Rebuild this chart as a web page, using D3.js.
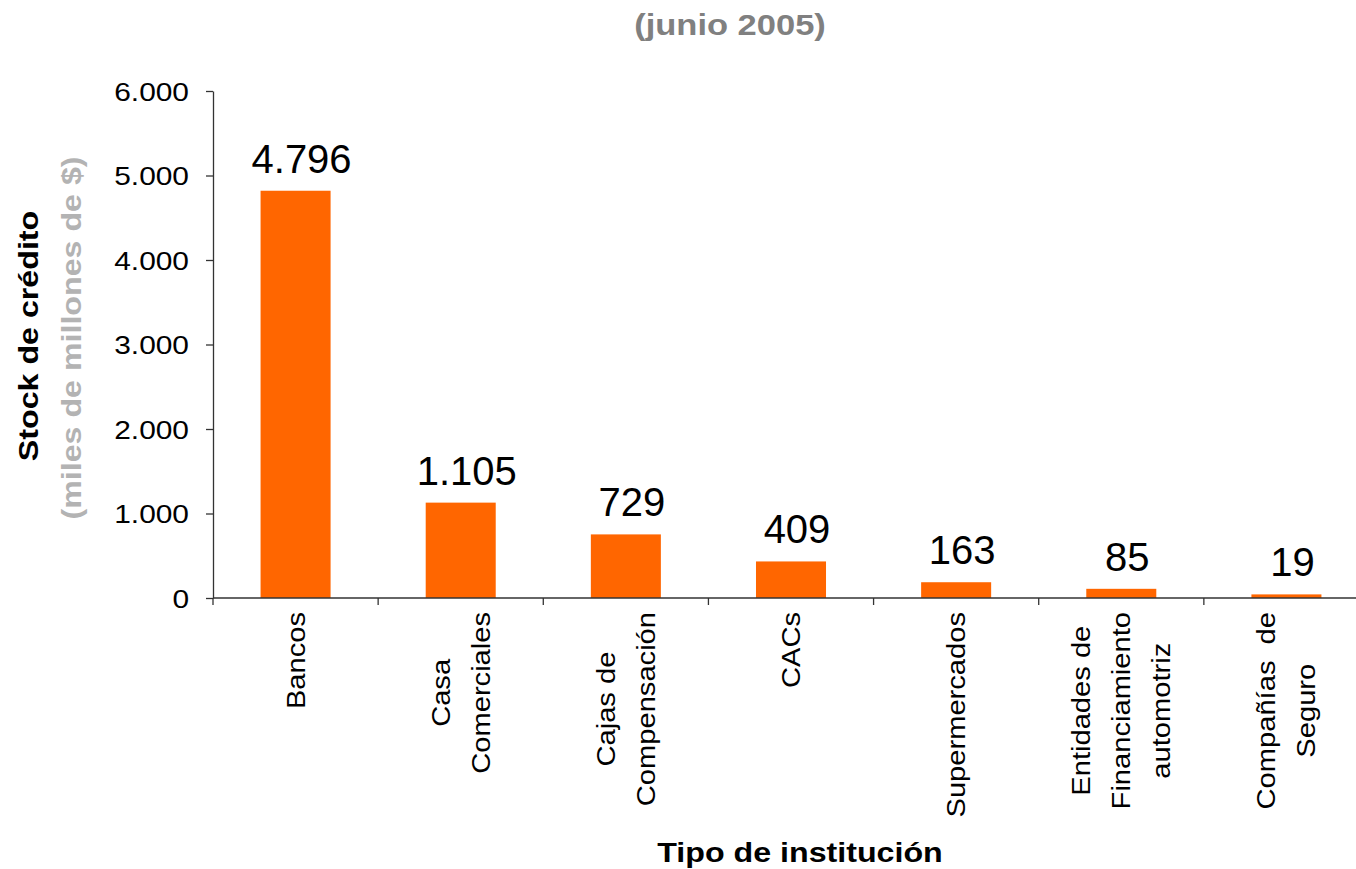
<!DOCTYPE html>
<html><head><meta charset="utf-8">
<script src="https://cdn.jsdelivr.net/npm/d3@7"></script>
<style>body{margin:0;background:#fff}svg text{font-family:"Liberation Sans",Arial,sans-serif}</style>
</head><body><svg id="c" width="1356" height="869"></svg>
<script>
const categories = ["Bancos","Casa Comerciales","Cajas de Compensación","CACs","Supermercados","Entidades de Financiamiento automotriz","Compañías de Seguro"];
const categoryLines = [["Bancos"],["Casa","Comerciales"],["Cajas de","Compensación"],["CACs"],["Supermercados"],["Entidades de","Financiamiento","automotriz"],["Compañías  de","Seguro"]];
const values = [4796,1105,729,409,163,85,19];
const valueLabels = ["4.796","1.105","729","409","163","85","19"];
const yTicks = [0,1000,2000,3000,4000,5000,6000];
const yTickLabels = ["0","1.000","2.000","3.000","4.000","5.000","6.000"];
const titleText = "(junio 2005)";
const yTitle = "Stock de crédito";
const ySubTitle = "(miles de millones de $)";
const xTitle = "Tipo de institución";

const svg = d3.select("#c");
const SX = 1.15;
const x = d3.scaleBand().domain(categories).range([213,1369]).paddingInner(0.576).paddingOuter(0.288);
const y = d3.scaleLinear().domain([0,6000]).range([598,91]);
const axisColor = "#333";

// Bars
svg.append("g").selectAll("rect").data(values).join("rect")
  .attr("x",(d,i)=>x(categories[i]))
  .attr("y",d=>y(d)-2)
  .attr("width",x.bandwidth())
  .attr("height",d=>y(0)-y(d)+2)
  .attr("fill","#FF6600");

// Y axis
const ya = svg.append("g").attr("transform","translate(213,0)")
  .call(d3.axisLeft(y).tickValues(yTicks).tickSize(7).tickSizeOuter(0).tickFormat((d,i)=>yTickLabels[i]));
ya.select(".domain").attr("stroke",axisColor).attr("stroke-width",1.3);
ya.selectAll(".tick line").attr("stroke",axisColor).attr("stroke-width",1.3);
ya.selectAll(".tick text").attr("x",0).attr("dy",null).attr("y",0)
  .attr("font-size",26).attr("fill","#000").attr("text-anchor","end")
  .attr("transform",`translate(-24,9) scale(${SX},1)`);

// X axis line and boundary ticks
const gap = (x.step()-x.bandwidth())/2;
const bounds = categories.map(c=>x(c)-gap).concat([x(categories[categories.length-1])+x.bandwidth()+gap]);
const xa = svg.append("g");
xa.append("line").attr("x1",213).attr("x2",1356).attr("y1",y(0)).attr("y2",y(0)).attr("stroke",axisColor).attr("stroke-width",1.3);
xa.selectAll(".bt").data(bounds).join("line").attr("class","bt")
  .attr("x1",d=>d).attr("x2",d=>d).attr("y1",y(0)).attr("y2",y(0)+7).attr("stroke",axisColor).attr("stroke-width",1.3);

// Value labels
svg.append("g").selectAll("text").data(values).join("text")
  .attr("x",(d,i)=>x(categories[i])+x.bandwidth()/2+6)
  .attr("y",d=>y(d)-20)
  .attr("text-anchor","middle").attr("font-size",40).attr("fill","#000")
  .text((d,i)=>valueLabels[i]);

// Category labels
const CSX = 1.12;
categoryLines.forEach((lines,i)=>{
  const cx = x(categories[i])+x.bandwidth()/2;
  const g = svg.append("g").attr("transform",`translate(${cx},612) rotate(-90) scale(${CSX},1)`);
  const n = lines.length;
  const texts = g.selectAll("text").data(lines).join("text")
    .attr("font-size",26).attr("fill","#000").attr("text-anchor","middle")
    .style("white-space","pre")
    .attr("y",(d,j)=>9+(j-(n-1)/2)*40)
    .text(d=>d);
  let maxLen = 0;
  texts.each(function(){maxLen=Math.max(maxLen,this.getComputedTextLength());});
  texts.attr("x",-maxLen/2);
});

// Title
svg.append("text").attr("transform",`translate(730,35) scale(${SX},1)`)
  .attr("text-anchor","middle").attr("font-size",30).attr("font-weight","bold").attr("fill","#808080")
  .text(titleText);

// Y titles
svg.append("text").attr("transform",`translate(38,336) rotate(-90) scale(${SX},1)`)
  .attr("text-anchor","middle").attr("font-size",28).attr("font-weight","bold").attr("fill","#000")
  .text(yTitle);
svg.append("text").attr("transform",`translate(81,338) rotate(-90) scale(${SX},1)`)
  .attr("text-anchor","middle").attr("font-size",28).attr("font-weight","bold").attr("fill","#b3b3b3")
  .text(ySubTitle);

// X title
svg.append("text").attr("transform",`translate(800,862) scale(${SX},1)`)
  .attr("text-anchor","middle").attr("font-size",28).attr("font-weight","bold").attr("fill","#000")
  .text(xTitle);
</script></body></html>
